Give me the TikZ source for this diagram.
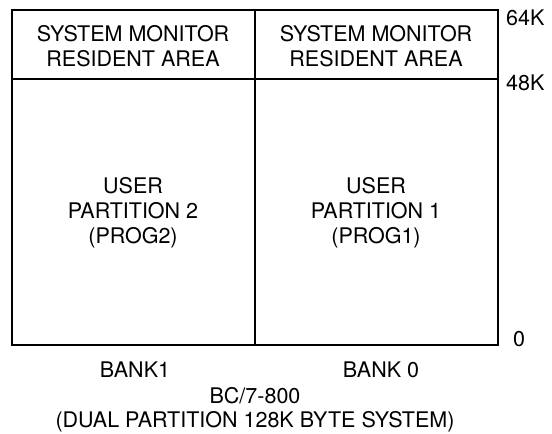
\documentclass[tikz,border=0pt]{standalone}
\usepackage{fontspec}
\setmainfont{TeX Gyre Heros}
\begin{document}
\begin{tikzpicture}[x=1pt,y=-1pt,
  lbl/.style={font=\fontsize{21.5}{25}\selectfont, align=center, inner sep=0pt},
  frame/.style={line width=2pt}]
\useasboundingbox (0,0) rectangle (552,434);
\coordinate (tl) at (12,10);
\coordinate (br) at (498,345);
\coordinate (mt) at (255,10);
\coordinate (mb) at (255,345);
\coordinate (hl) at (12,79);
\coordinate (hr) at (498,79);
\draw[frame] (tl) rectangle (br);
\draw[frame] (mt) -- (mb);
\draw[frame] (hl) -- (hr);
\node[lbl] (sm2) at (133,46) {SYSTEM MONITOR\\[0pt]RESIDENT AREA};
\node[lbl] (sm1) at (376,46) {SYSTEM MONITOR\\[0pt]RESIDENT AREA};
\node[lbl] (up2) at (133,213) {USER\\[0pt]PARTITION 2\\[0pt](PROG2)};
\node[lbl] (up1) at (376,213) {USER\\[0pt]PARTITION 1\\[0pt](PROG1)};
\node[lbl,anchor=west] (k64) at (506,18) {64K};
\node[lbl,anchor=west] (k48) at (506,83) {48K};
\node[lbl,anchor=west] (k0) at (513,339) {0};
\node[lbl] (b1) at (135,370) {BANK1};
\node[lbl] (b0) at (381,370) {BANK 0};
\node[lbl] (bc) at (255,396) {BC/7-800};
\node[lbl] (dual) at (255,422) {(DUAL PARTITION 128K BYTE SYSTEM)};
\end{tikzpicture}
\end{document}
